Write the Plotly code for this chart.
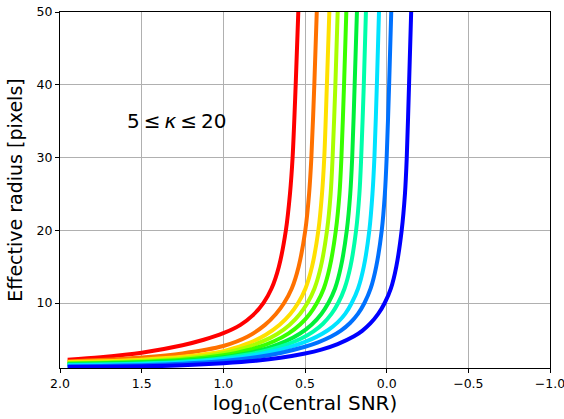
import plotly.graph_objects as go

# kappa values of the curves (red -> blue)
kappa = [20.0, 18.3, 16.7, 15.0, 13.3, 11.7, 10.0, 8.3, 6.7, 5.0]
colors = ["#ff0000", "#ff7100", "#ffe000", "#aaff00", "#39ff00",
          "#00f039", "#00ffaa", "#00e3ff", "#0071ff", "#0000ff"]

# log10(central SNR) and effective radius [pixels]
x1 = [0.541, 0.557, 0.576, 0.592, 0.617, 0.660, 0.705, 0.755, 0.820, 0.895, 1.000, 1.120, 1.250, 1.500, 1.750, 1.953]
r1 = [50, 40, 30, 25, 20, 15, 12, 10, 8.3, 7.0, 5.85, 4.95, 4.2, 3.17, 2.55, 2.2]

x2 = [0.428, 0.443, 0.461, 0.475, 0.498, 0.539, 0.581, 0.628, 0.678, 0.745, 0.850, 1.000, 1.250, 1.500, 1.750, 1.953]
r2 = [50, 40, 30, 25, 20, 15, 12, 10, 8.5, 7.0, 5.4, 4.1, 3.08, 2.52, 2.17, 1.98]

x3 = [0.351, 0.366, 0.382, 0.396, 0.418, 0.457, 0.497, 0.542, 0.590, 0.655, 0.740, 0.840, 0.930, 1.000, 1.250, 1.500, 1.750, 1.953]
r3 = [50, 40, 30, 25, 20, 15, 12, 10, 8.5, 7.02, 5.65, 4.53, 3.82, 3.39, 2.61, 2.22, 2.0, 1.88]

x4 = [0.300, 0.314, 0.331, 0.343, 0.365, 0.403, 0.442, 0.485, 0.531, 0.595, 0.670, 0.760, 0.870, 1.000, 1.250, 1.500, 1.750, 1.953]
r4 = [50, 40, 30, 25, 20, 15, 12, 10, 8.5, 6.99, 5.75, 4.72, 3.83, 3.11, 2.39, 2.03, 1.84, 1.75]

x5 = [0.247, 0.261, 0.277, 0.289, 0.311, 0.348, 0.385, 0.427, 0.471, 0.530, 0.600, 0.690, 0.800, 0.920, 1.000, 1.250, 1.500, 1.750, 1.953]
r5 = [50, 40, 30, 25, 20, 15, 12, 10, 8.5, 7.04, 5.83, 4.74, 3.82, 3.14, 2.81, 2.19, 1.89, 1.73, 1.66]

x6 = [0.182, 0.196, 0.211, 0.223, 0.244, 0.280, 0.316, 0.357, 0.400, 0.460, 0.530, 0.620, 0.730, 0.860, 1.000, 1.250, 1.500, 1.750, 1.953]
r6 = [50, 40, 30, 25, 20, 15, 12, 10, 8.5, 7.01, 5.81, 4.72, 3.81, 3.07, 2.55, 2.06, 1.82, 1.68, 1.63]

x7 = [0.127, 0.140, 0.156, 0.167, 0.187, 0.222, 0.258, 0.297, 0.338, 0.390, 0.450, 0.520, 0.600, 0.720, 0.860, 1.000, 1.250, 1.500, 1.750, 1.953]
r7 = [50, 40, 30, 25, 20, 15, 12, 10, 8.5, 7.16, 6.07, 5.15, 4.39, 3.56, 2.88, 2.42, 1.93, 1.68, 1.555, 1.505]

x8 = [0.047, 0.060, 0.075, 0.087, 0.106, 0.140, 0.175, 0.214, 0.254, 0.300, 0.360, 0.430, 0.500, 0.600, 0.750, 0.900, 1.000, 1.250, 1.500, 1.750, 1.953]
r8 = [50, 40, 30, 25, 20, 15, 12, 10, 8.5, 7.34, 6.26, 5.35, 4.66, 3.91, 3.10, 2.53, 2.26, 1.83, 1.61, 1.50, 1.45]

x9 = [-0.028, -0.015, 0.000, 0.011, 0.030, 0.064, 0.098, 0.136, 0.176, 0.224, 0.280, 0.340, 0.420, 0.500, 0.650, 0.800, 1.000, 1.250, 1.500, 1.750, 1.953]
r9 = [50, 40, 30, 25, 20, 15, 12, 10, 8.5, 7.25, 6.2, 5.39, 4.59, 3.99, 3.14, 2.54, 2.02, 1.65, 1.46, 1.355, 1.31]

x10 = [-0.150, -0.137, -0.123, -0.112, -0.092, -0.059, -0.026, 0.012, 0.052, 0.100, 0.150, 0.200, 0.300, 0.400, 0.500, 0.650, 0.800, 1.000, 1.250, 1.500, 1.750, 1.953]
r10 = [50, 40, 30, 25, 20, 15, 12, 10, 8.5, 7.19, 6.18, 5.43, 4.36, 3.60, 3.06, 2.48, 2.08, 1.74, 1.46, 1.31, 1.23, 1.20]

x_ticks = [2.0, 1.5, 1.0, 0.5, 0.0, -0.5, -1.0]
x_ticklabels = ["2.0", "1.5", "1.0", "0.5", "0.0", "\u22120.5", "\u22121.0"]
y_ticks = [10, 20, 30, 40, 50]

xs = [x1, x2, x3, x4, x5, x6, x7, x8, x9, x10]
rs = [r1, r2, r3, r4, r5, r6, r7, r8, r9, r10]

fig = go.Figure()
for k, xv, rv, c in zip(kappa, xs, rs, colors):
    fig.add_trace(go.Scatter(
        x=xv, y=rv, mode="lines", name=f"\u03ba={k}",
        line=dict(color=c, width=4, shape="spline", smoothing=0.9),
        showlegend=False, hoverinfo="skip"))

axis_common = dict(
    showline=True, linecolor="black", linewidth=1, mirror=True,
    ticks="outside", ticklen=4, tickcolor="black", tickwidth=1,
    showgrid=True, gridcolor="#b0b0b0", gridwidth=1, zeroline=False,
    automargin=False,
    tickfont=dict(family="DejaVu Sans", size=12.5, color="black"),
)

fig.update_layout(
    width=564, height=419,
    margin=dict(l=60, r=14, t=12, b=51),
    paper_bgcolor="white", plot_bgcolor="white",
    font=dict(family="DejaVu Sans", color="black"),
    xaxis=dict(range=[2.0, -1.0], tickvals=x_ticks, ticktext=x_ticklabels,
               ticklabeloverflow="allow",
               title=dict(text="log<sub>10</sub>(Central SNR)",
                          font=dict(size=20), standoff=5),
               **axis_common),
    yaxis=dict(range=[1.07, 50], tickvals=y_ticks,
               title=dict(text="Effective radius [pixels]",
                          font=dict(size=19), standoff=8),
               **axis_common),
    annotations=[dict(x=1.284, y=35.0, xref="x", yref="y",
                      text="5\u2009\u2264\u2009<i>\u03ba</i>\u2009\u2264\u200920",
                      showarrow=False,
                      font=dict(family="DejaVu Sans", size=20, color="black"))],
)

fig.write_html(
    "out.html",
    config={"displayModeBar": False},
    post_script="document.body.style.margin='0';document.body.style.overflow='hidden';",
)
